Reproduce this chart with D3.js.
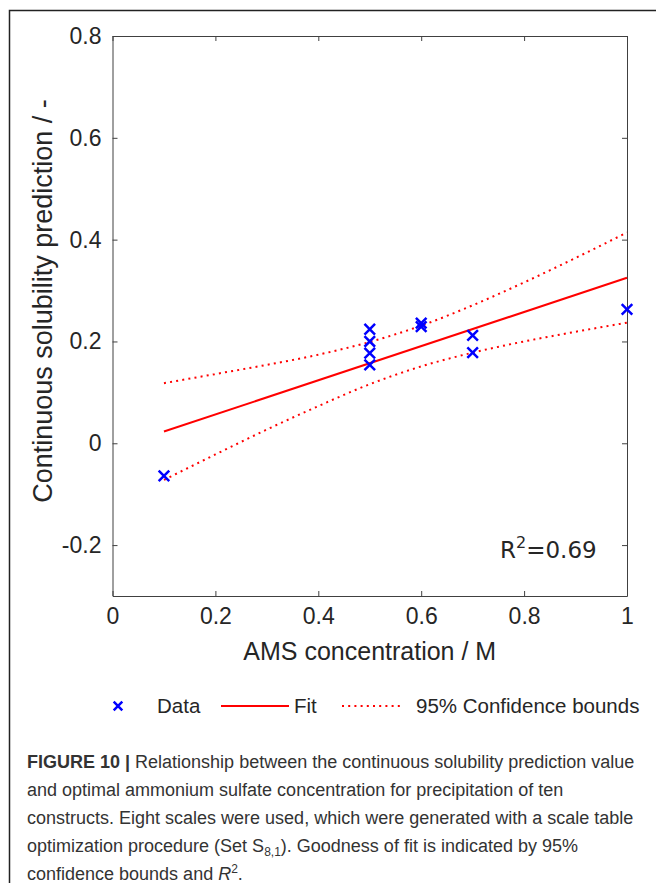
<!DOCTYPE html>
<html>
<head>
<meta charset="utf-8">
<script src="https://cdn.jsdelivr.net/npm/d3@7"></script>
<style>
	body {margin:0; background:#fff;}
	svg text {font-family:"Liberation Sans", Arial, sans-serif;}
</style>
</head>
<body>
<svg id="fig" width="656" height="883"></svg>
<script>
//measured points
var amsConc = [0.1, 0.5, 0.5, 0.5, 0.5, 0.6, 0.6, 0.7, 0.7, 1.0];
var solPred = [-0.064, 0.224, 0.200, 0.177, 0.154, 0.236, 0.229, 0.212, 0.178, 0.263];

//fit line end points
var fitX = [0.1, 1.0];
var fitY = [0.023, 0.325];

//confidence bounds
var boundX = [0.1, 0.2, 0.3, 0.4, 0.5, 0.6, 0.7, 0.8, 0.9, 1.0];
var upperY = [0.118, 0.136, 0.154, 0.174, 0.199, 0.231, 0.271, 0.316, 0.364, 0.414];
var lowerY = [-0.072, -0.022, 0.027, 0.073, 0.116, 0.151, 0.178, 0.200, 0.219, 0.237];

//ticks
var xTicks = [0, 0.2, 0.4, 0.6, 0.8, 1];
var yTicks = [-0.2, 0, 0.2, 0.4, 0.6, 0.8];

var captionLines = [
	"Relationship between the continuous solubility prediction value",
	"and optimal ammonium sulfate concentration for precipitation of ten",
	"constructs. Eight scales were used, which were generated with a scale table",
	"optimization procedure (Set S",
	"confidence bounds and "
];

function plotSolubility()
{
	var svg = d3.select("#fig");
	var axisColor = "#404040";
	var textColor = "#262626";

	//outer frame (only left and top visible)
	svg.append("path")
		.attr("d", "M9.5,883 L9.5,10.5 L656,10.5")
		.attr("fill", "none")
		.attr("stroke", "#222")
		.attr("stroke-width", 1.5);

	var box = {left:112.5, right:627, top:36, bottom:596};
	var x = d3.scaleLinear().domain([0, 1]).range([box.left, box.right]);
	var y = d3.scaleLinear().domain([-0.3, 0.8]).range([box.bottom, box.top]);

	//axes on all four sides, ticks inward (plain hyphen for negatives, like matlab)
	var fmt = function(d) {return String(+d.toFixed(1));};
	svg.append("g").attr("transform", "translate(0," + box.bottom + ")")
		.call(d3.axisBottom(x).tickValues(xTicks).tickSizeInner(-5).tickSizeOuter(0).tickPadding(12).tickFormat(fmt));
	svg.append("g").attr("transform", "translate(" + box.left + ",0)")
		.call(d3.axisLeft(y).tickValues(yTicks).tickSizeInner(-5).tickSizeOuter(0).tickPadding(11).tickFormat(fmt));
	svg.append("g").attr("transform", "translate(0," + box.top + ")")
		.call(d3.axisTop(x).tickValues(xTicks).tickSizeInner(-5).tickSizeOuter(0).tickFormat(""));
	svg.append("g").attr("transform", "translate(" + box.right + ",0)")
		.call(d3.axisRight(y).tickValues(yTicks).tickSizeInner(-5).tickSizeOuter(0).tickFormat(""));

	svg.selectAll(".domain, .tick line").attr("stroke", axisColor).attr("stroke-width", 1);
	svg.selectAll(".tick text").attr("fill", textColor).style("font-size", "23px");

	//axis labels
	svg.append("text")
		.attr("x", (box.left + box.right) / 2)
		.attr("y", 660)
		.attr("text-anchor", "middle")
		.attr("fill", textColor)
		.style("font-size", "25px")
		.text("AMS concentration / M");
	svg.append("text")
		.attr("transform", "translate(52," + 301 + ") rotate(-90)")
		.attr("text-anchor", "middle")
		.attr("fill", textColor)
		.style("font-size", "27px")
		.text("Continuous solubility prediction / -");

	//confidence bounds
	var line = d3.line().x(function(d) {return x(d[0]);}).y(function(d) {return y(d[1]);}).curve(d3.curveMonotoneX);
	[upperY, lowerY].forEach(function(b) {
		svg.append("path")
			.datum(boundX.map(function(v, i) {return [v, b[i]];}))
			.attr("d", line)
			.attr("fill", "none")
			.attr("stroke", "#ff0000")
			.attr("stroke-width", 2)
			.attr("stroke-dasharray", "2,4.2");
	});

	//fit
	svg.append("path")
		.datum(fitX.map(function(v, i) {return [v, fitY[i]];}))
		.attr("d", line)
		.attr("fill", "none")
		.attr("stroke", "#ff0000")
		.attr("stroke-width", 2);

	//data markers
	var cross = d3.symbol().type(d3.symbolX).size(75);
	svg.selectAll(".pt")
		.data(amsConc)
		.enter().append("path")
		.attr("class", "pt")
		.attr("transform", function(d, i) {return "translate(" + x(d) + "," + y(solPred[i]) + ")";})
		.attr("d", cross)
		.attr("fill", "none")
		.attr("stroke", "#0000ff")
		.attr("stroke-width", 2.5);

	//R^2 annotation
	var r2 = svg.append("text")
		.attr("x", 500)
		.attr("y", 558)
		.attr("fill", textColor)
		.style("font-family", "'DejaVu Sans', sans-serif")
		.style("font-size", "23px");
	r2.append("tspan").text("R");
	r2.append("tspan").attr("dy", -10).style("font-size", "16px").text("2");
	r2.append("tspan").attr("dy", 10).text("=0.69");

	//legend
	var ly = 706;
	var lg = svg.append("g").style("font-size", "20.5px");
	lg.append("path").attr("transform", "translate(118," + ly + ")").attr("d", d3.symbol().type(d3.symbolX).size(50))
		.attr("stroke", "#0000ff").attr("stroke-width", 2.5).attr("fill", "none");
	lg.append("text").attr("x", 157).attr("y", ly + 7).attr("fill", textColor).text("Data");
	lg.append("line").attr("x1", 221).attr("x2", 289).attr("y1", ly).attr("y2", ly)
		.attr("stroke", "#ff0000").attr("stroke-width", 2);
	lg.append("text").attr("x", 294).attr("y", ly + 7).attr("fill", textColor).text("Fit");
	lg.append("line").attr("x1", 342).attr("x2", 402).attr("y1", ly).attr("y2", ly)
		.attr("stroke", "#ff0000").attr("stroke-width", 2).attr("stroke-dasharray", "2,4.2");
	lg.append("text").attr("x", 416).attr("y", ly + 7).attr("fill", textColor).text("95% Confidence bounds");

	//caption
	var cap = svg.append("g").attr("fill", "#333").style("font-size", "18px");
	var l0 = cap.append("text").attr("x", 27).attr("y", 768);
	l0.append("tspan").style("font-weight", "bold").text("FIGURE 10 | ");
	l0.append("tspan").text(captionLines[0]);
	cap.append("text").attr("x", 27).attr("y", 796).text(captionLines[1]);
	cap.append("text").attr("x", 27).attr("y", 824).text(captionLines[2]);
	var l3 = cap.append("text").attr("x", 27).attr("y", 852);
	l3.append("tspan").text(captionLines[3]);
	l3.append("tspan").attr("dy", 4).style("font-size", "12px").text("8,1");
	l3.append("tspan").attr("dy", -4).text("). Goodness of fit is indicated by 95%");
	var l4 = cap.append("text").attr("x", 27).attr("y", 880);
	l4.append("tspan").text(captionLines[4]);
	l4.append("tspan").style("font-style", "italic").text("R");
	l4.append("tspan").attr("dy", -7).style("font-size", "12px").text("2");
	l4.append("tspan").attr("dy", 7).text(".");
}

plotSolubility();
</script>
</body>
</html>
